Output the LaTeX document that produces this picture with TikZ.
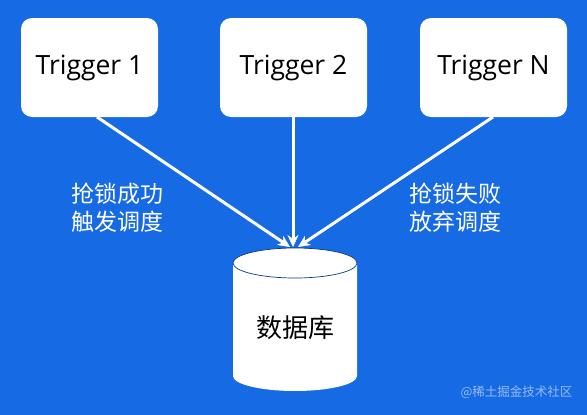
\documentclass[tikz,border=0pt]{standalone}
\usepackage{fontspec}
\setmainfont{Open Sans}
\newfontfamily\cjk{Noto Sans CJK SC}
\usetikzlibrary{arrows.meta}
\definecolor{bgblue}{RGB}{22,106,228}
\begin{document}
\begin{tikzpicture}[x=1pt,y=-1pt,
  trig/.style={draw=none,fill=white,rounded corners=11pt,minimum height=99pt,font=\fontsize{26.5}{30}\selectfont,text=black},
  conn/.style={draw=white,line width=3pt,-{Stealth[length=12pt,width=11pt,fill=white,line width=0.4pt]}},
  lbl/.style={text=white,font=\cjk\fontsize{23}{28}\selectfont,align=center},
  dbedge/.style={draw=bgblue!55!black,line width=0.7pt}]
\fill[bgblue] (0,0) rectangle (587,415);
\useasboundingbox (0,0) rectangle (587,415);
\node[trig,minimum width=137pt] (t1) at (89.5,67.5) {Trigger 1};
\node[trig,minimum width=147pt] (t2) at (293.5,67.5) {Trigger 2};
\node[trig,minimum width=147pt] (tn) at (493.5,67.5) {Trigger N};
% database cylinder
\fill[white] (233,263) -- (233,376) arc[start angle=180,end angle=360,x radius=62,y radius=-15] -- (357,263) arc[start angle=0,end angle=180,x radius=62,y radius=-15] -- cycle;
\draw[dbedge] (295,263) ellipse[x radius=62,y radius=15];
\node[font=\cjk\fontsize{26}{30}\selectfont] (db) at (295,328) {数据库};
\coordinate (s1) at (97,117);
\coordinate (s2) at (293,117);
\coordinate (sn) at (493,117);
\coordinate (e1) at (290,247);
\coordinate (e2) at (293,247);
\coordinate (en) at (298,247);
\draw[conn] (s1) -- (e1);
\draw[conn] (s2) -- (e2);
\draw[conn] (sn) -- (en);
\node[lbl] (l1) at (117,208) {抢锁成功\\触发调度};
\node[lbl] (l2) at (455,208) {抢锁失败\\放弃调度};
\node[text=white,opacity=0.55,font=\cjk\fontsize{12.5}{14}\selectfont,anchor=east] (wm) at (576,392) {@稀土掘金技术社区};
\end{tikzpicture}
\end{document}
